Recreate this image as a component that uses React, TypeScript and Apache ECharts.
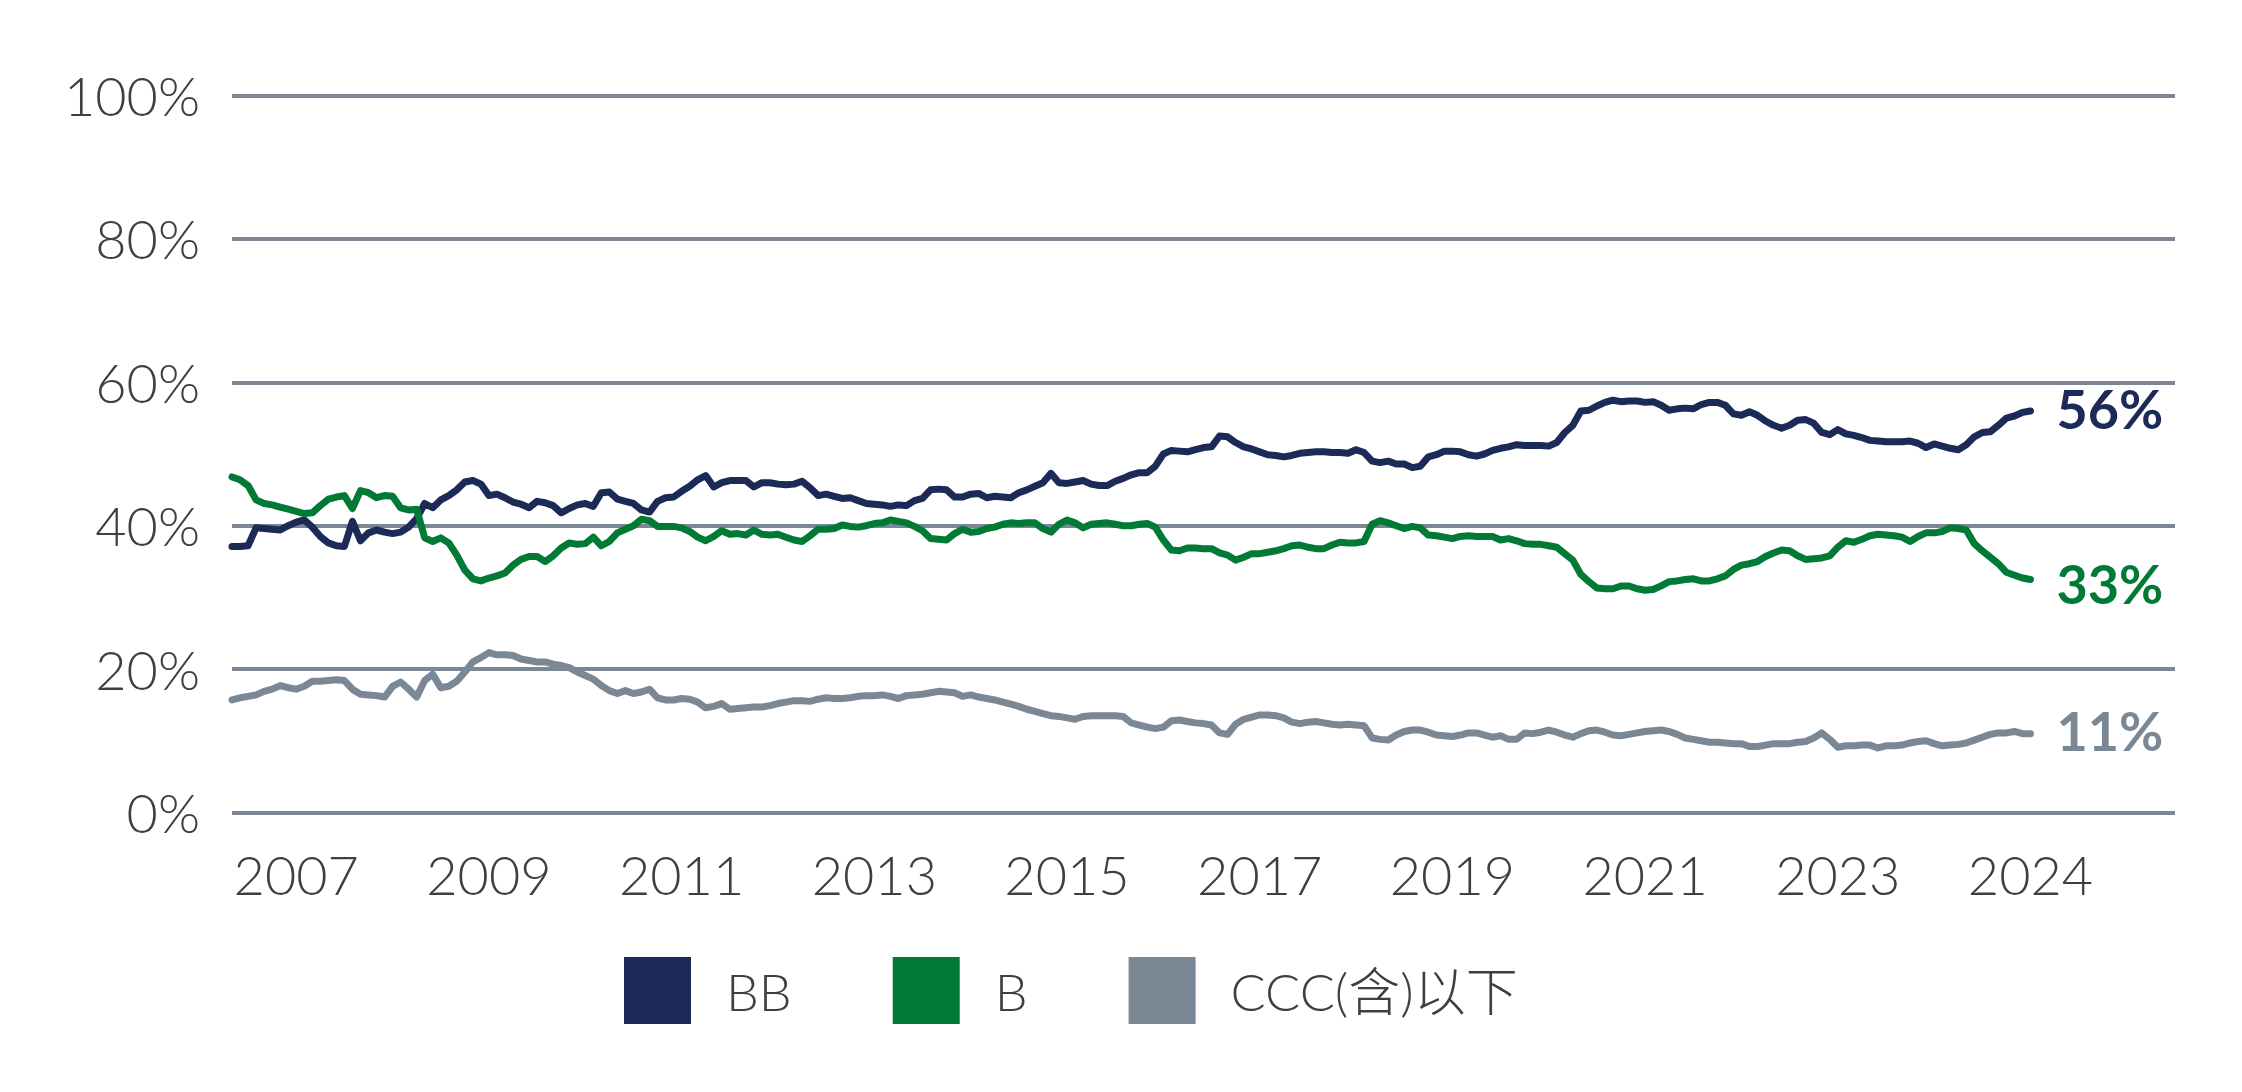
import React, { useEffect, useRef } from "react";
import * as echarts from "echarts";

const seriesNames = ["BB", "B", "CCC(含)以下"];
const seriesColors = ["#1b2a56", "#007a35", "#7a8896"];

const bbValues = [
  37.1, 37.1, 37.2, 39.7, 39.6, 39.5, 39.4, 40.0, 40.5, 40.8,
  39.8, 38.5, 37.6, 37.2, 37.1, 40.6, 37.9, 39.0, 39.4, 39.1,
  38.9, 39.1, 39.8, 41.0, 43.1, 42.5, 43.6, 44.2, 45.0, 46.1,
  46.3, 45.8, 44.2, 44.4, 43.9, 43.3, 43.0, 42.5, 43.4, 43.2,
  42.8, 41.8, 42.4, 42.9, 43.1, 42.7, 44.6, 44.7, 43.7, 43.4,
  43.1, 42.2, 41.9, 43.4, 43.9, 44.0, 44.8, 45.5, 46.4, 47.0,
  45.4, 46.0, 46.3, 46.3, 46.3, 45.4, 46.0, 46.0, 45.8, 45.7,
  45.8, 46.2, 45.3, 44.2, 44.4, 44.1, 43.8, 43.9, 43.5, 43.1,
  43.0, 42.9, 42.7, 42.9, 42.8, 43.5, 43.8, 45.0, 45.1, 45.0,
  44.0, 44.0, 44.4, 44.5, 43.9, 44.1, 44.0, 43.9, 44.6, 45.0,
  45.5, 46.0, 47.3, 46.0, 45.9, 46.1, 46.3, 45.8, 45.6, 45.6,
  46.2, 46.6, 47.1, 47.4, 47.4, 48.3, 50.0, 50.5, 50.4, 50.3,
  50.6, 50.9, 51.0, 52.5, 52.4, 51.6, 51.0, 50.7, 50.3, 49.9,
  49.8, 49.6, 49.8, 50.1, 50.2, 50.3, 50.3, 50.2, 50.2, 50.1,
  50.6, 50.2, 49.0, 48.8, 49.0, 48.6, 48.6, 48.1, 48.3, 49.6,
  49.9, 50.4, 50.4, 50.3, 49.9, 49.7, 50.0, 50.5, 50.8, 51.0,
  51.3, 51.2, 51.2, 51.2, 51.1, 51.6, 53.0, 54.0, 56.0, 56.1,
  56.7, 57.2, 57.5, 57.3, 57.4, 57.4, 57.2, 57.3, 56.8, 56.1,
  56.3, 56.4, 56.3, 56.9, 57.2, 57.2, 56.8, 55.6, 55.4, 55.9,
  55.4, 54.6, 54.0, 53.6, 54.0, 54.7, 54.8, 54.3, 53.0, 52.7,
  53.4, 52.8, 52.6, 52.3, 51.9, 51.8, 51.7, 51.7, 51.7, 51.8,
  51.5, 50.9, 51.4, 51.1, 50.8, 50.6, 51.3, 52.4, 53.0, 53.1,
  54.0, 55.0, 55.3, 55.8, 56.0,
];

const bValues = [
  46.8, 46.4, 45.6, 43.6, 43.1, 42.9, 42.6, 42.3, 42.0, 41.7,
  41.8, 42.8, 43.7, 44.0, 44.2, 42.4, 44.9, 44.6, 43.9, 44.2,
  44.1, 42.5, 42.2, 42.3, 38.3, 37.8, 38.3, 37.6, 35.9, 33.8,
  32.6, 32.3, 32.7, 33.0, 33.4, 34.5, 35.3, 35.7, 35.7, 35.0,
  35.8, 36.9, 37.6, 37.4, 37.5, 38.4, 37.2, 37.8, 39.0, 39.5,
  40.0, 40.9, 40.7, 39.9, 39.9, 39.9, 39.7, 39.2, 38.4, 37.9,
  38.5, 39.3, 38.8, 38.9, 38.7, 39.4, 38.8, 38.7, 38.8, 38.4,
  38.0, 37.8, 38.6, 39.5, 39.5, 39.6, 40.1, 39.9, 39.8, 40.0,
  40.3, 40.4, 40.8, 40.6, 40.4, 39.9, 39.3, 38.2, 38.1, 38.0,
  38.9, 39.5, 39.1, 39.2, 39.6, 39.8, 40.2, 40.4, 40.3, 40.4,
  40.4, 39.6, 39.1, 40.2, 40.8, 40.4, 39.7, 40.2, 40.3, 40.4,
  40.2, 40.0, 40.0, 40.2, 40.3, 39.8, 38.0, 36.6, 36.5, 36.9,
  36.9, 36.8, 36.8, 36.2, 35.9, 35.2, 35.6, 36.1, 36.1, 36.3,
  36.5, 36.8, 37.2, 37.3, 37.0, 36.8, 36.8, 37.3, 37.7, 37.6,
  37.6, 37.8, 40.2, 40.7, 40.4, 40.0, 39.6, 39.9, 39.7, 38.7,
  38.6, 38.4, 38.2, 38.5, 38.6, 38.5, 38.5, 38.5, 38.0, 38.2,
  37.9, 37.5, 37.4, 37.4, 37.2, 37.0, 36.1, 35.2, 33.2, 32.2,
  31.3, 31.2, 31.2, 31.6, 31.6, 31.2, 31.0, 31.1, 31.6, 32.2,
  32.3, 32.5, 32.6, 32.3, 32.3, 32.6, 33.0, 33.9, 34.5, 34.7,
  35.0, 35.7, 36.2, 36.6, 36.5, 35.8, 35.3, 35.4, 35.5, 35.8,
  37.0, 37.9, 37.7, 38.1, 38.6, 38.8, 38.7, 38.6, 38.4, 37.8,
  38.5, 39.0, 39.0, 39.2, 39.7, 39.6, 39.4, 37.5, 36.5, 35.6,
  34.7, 33.5, 33.1, 32.7, 32.5,
];

const cccValues = [
  15.7, 16.0, 16.2, 16.4, 16.9, 17.2, 17.7, 17.4, 17.2, 17.6,
  18.3, 18.3, 18.4, 18.5, 18.4, 17.2, 16.5, 16.4, 16.3, 16.1,
  17.6, 18.2, 17.2, 16.1, 18.4, 19.3, 17.4, 17.6, 18.3, 19.6,
  21.0, 21.6, 22.3, 22.0, 22.0, 21.9, 21.4, 21.2, 21.0, 21.0,
  20.7, 20.5, 20.2, 19.6, 19.1, 18.6, 17.7, 17.0, 16.6, 17.0,
  16.6, 16.8, 17.2, 16.0, 15.7, 15.7, 15.9, 15.8, 15.4, 14.6,
  14.8, 15.2, 14.4, 14.5, 14.6, 14.7, 14.7, 14.9, 15.2, 15.4,
  15.6, 15.6, 15.5, 15.8, 16.0, 15.9, 15.9, 16.0, 16.2, 16.3,
  16.3, 16.4, 16.2, 15.9, 16.3, 16.4, 16.5, 16.7, 16.9, 16.8,
  16.7, 16.2, 16.4, 16.1, 15.9, 15.7, 15.4, 15.1, 14.8, 14.4,
  14.1, 13.8, 13.5, 13.4, 13.2, 13.0, 13.4, 13.5, 13.5, 13.5,
  13.5, 13.4, 12.5, 12.2, 11.9, 11.7, 11.9, 12.8, 12.9, 12.7,
  12.5, 12.4, 12.2, 11.1, 10.9, 12.3, 13.0, 13.3, 13.6, 13.6,
  13.5, 13.2, 12.6, 12.4, 12.6, 12.7, 12.5, 12.3, 12.2, 12.3,
  12.2, 12.1, 10.4, 10.2, 10.1, 10.8, 11.3, 11.5, 11.5, 11.2,
  10.8, 10.7, 10.6, 10.8, 11.1, 11.1, 10.8, 10.5, 10.7, 10.2,
  10.2, 11.1, 11.0, 11.2, 11.5, 11.2, 10.8, 10.5, 11.0, 11.4,
  11.5, 11.2, 10.8, 10.7, 10.9, 11.1, 11.3, 11.4, 11.5, 11.3,
  10.9, 10.4, 10.2, 10.0, 9.8, 9.8, 9.7, 9.6, 9.6, 9.2,
  9.2, 9.4, 9.6, 9.6, 9.6, 9.8, 9.9, 10.4, 11.1, 10.2,
  9.1, 9.3, 9.3, 9.4, 9.4, 9.0, 9.3, 9.3, 9.4, 9.7,
  9.9, 10.0, 9.6, 9.3, 9.4, 9.5, 9.7, 10.1, 10.5, 10.9,
  11.1, 11.1, 11.3, 11.0, 11.0,
];

// x-axis: monthly slots (data + empty room on the right), labelled slots
const axisSlotCount = 243;
const tickIndices = [8, 32, 56, 80, 104, 128, 152, 176, 200, 224];
const tickLabels = ["2007", "2009", "2011", "2013", "2015", "2017", "2019", "2021", "2023", "2024"];

const yMin = 0;
const yMax = 100;
const yInterval = 20;

const FONT = "Lato, 'Noto Sans CJK SC', sans-serif";
const TEXT_COLOR = "#3f3f3f";
const GRID_COLOR = "#7b8794";

export default function App() {
  const ref = useRef<HTMLDivElement>(null);

  useEffect(() => {
    if (!ref.current) return;
    const chart = echarts.init(ref.current, undefined, { renderer: "svg" });
    const categories = Array.from({ length: axisSlotCount }, (_, i) => String(i));
    const allValues = [bbValues, bValues, cccValues];
    const labelOffsets = [[0, -2], [0, 4], [0, -3]];

    chart.setOption({
      animation: false,
      textStyle: { fontFamily: FONT },
      grid: { left: 232, right: 67, top: 95.5, bottom: 279.5, containLabel: false },
      legend: {
        left: 619,
        top: 952,
        itemWidth: 67,
        itemHeight: 67,
        itemGap: 101,
        icon: "rect",
        data: seriesNames,
        textStyle: {
          fontFamily: FONT,
          fontSize: 52,
          fontWeight: 300,
          color: TEXT_COLOR,
          padding: [0, 0, 0, 30],
        },
      },
      xAxis: {
        type: "category",
        data: categories,
        boundaryGap: false,
        axisLine: { show: false },
        axisTick: { show: false },
        splitLine: { show: false },
        axisLabel: {
          interval: (idx: number) => tickIndices.includes(idx),
          formatter: (_v: string, idx: number) => {
            const k = tickIndices.indexOf(idx);
            return k >= 0 ? tickLabels[k] : "";
          },
          fontFamily: FONT,
          fontSize: 54,
          fontWeight: 300,
          color: TEXT_COLOR,
          margin: 35,
        },
      },
      yAxis: {
        type: "value",
        min: yMin,
        max: yMax,
        interval: yInterval,
        axisLine: { show: false },
        axisTick: { show: false },
        axisLabel: {
          formatter: (v: number) => `${v}%`,
          fontFamily: FONT,
          fontSize: 54,
          fontWeight: 300,
          color: TEXT_COLOR,
          margin: 32,
        },
        splitLine: { show: true, lineStyle: { color: GRID_COLOR, width: 4 } },
      },
      series: seriesNames.map((name, k) => ({
        name,
        type: "line",
        data: allValues[k],
        showSymbol: false,
        symbol: "none",
        color: seriesColors[k],
        itemStyle: { color: seriesColors[k] },
        lineStyle: { color: seriesColors[k], width: 7, cap: "round", join: "round" },
        endLabel: {
          show: true,
          formatter: (p: any) => `${Math.round(p.value)}%`,
          fontFamily: FONT,
          fontSize: 54,
          fontWeight: "bold",
          color: seriesColors[k],
          distance: 26,
          offset: labelOffsets[k],
        },
      })),
    });

    return () => chart.dispose();
  }, []);

  return (
    <div
      ref={ref}
      style={{ position: "fixed", left: 0, top: 0, width: 2242, height: 1092, background: "#ffffff" }}
    />
  );
}
